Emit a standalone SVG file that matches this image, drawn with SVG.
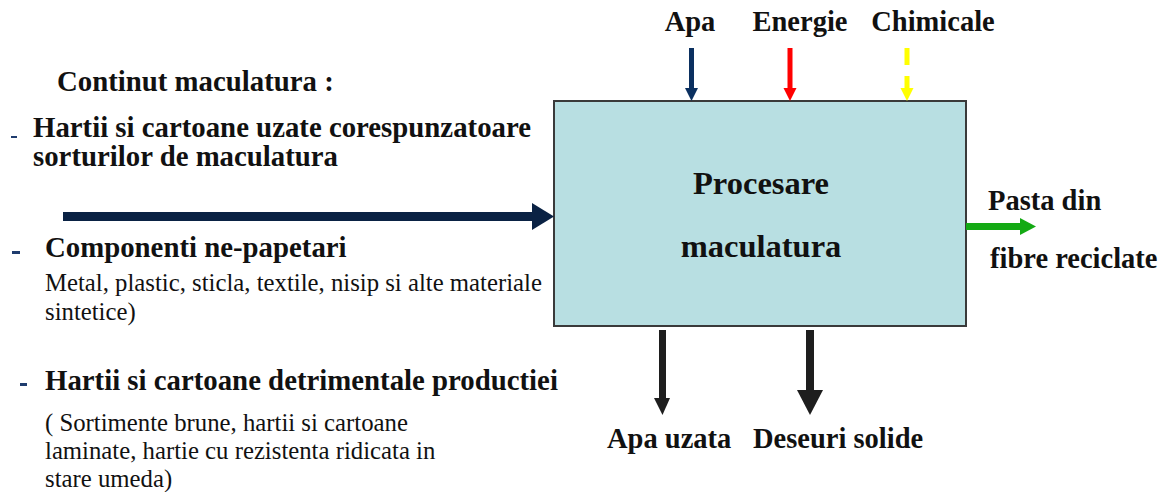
<svg xmlns="http://www.w3.org/2000/svg" width="1167" height="492" viewBox="0 0 1167 492">
  <style>
    .b { font-family: 'Liberation Serif', Tinos, 'Times New Roman', Times, serif; font-weight: bold; font-size: 28.5px; fill: #111; }
    .lb { font-size: 28.8px; }
    .big { font-size: 32.5px; }
    .r { font-family: 'Liberation Serif', Tinos, 'Times New Roman', Times, serif; font-size: 24.75px; fill: #111; }
    .mid { text-anchor: middle; }
    .dash { fill: #1f3c6e; }
    .navy { fill: #0a2244; }
    .dark { fill: #1e1e1e; }
  </style>
  <rect width="1167" height="492" fill="#ffffff"/>

  <!-- process block -->
  <g id="proces">
    <rect x="554" y="101" width="412" height="225" fill="#b8dfe2" stroke="#3a3a3a" stroke-width="2"/>
    <text class="b big mid" x="761" y="194">Procesare</text>
    <text class="b big mid" x="761" y="257">maculatura</text>
  </g>

  <!-- input: waste paper content -->
  <g id="maculatura">
    <text class="b lb" x="57" y="91">Continut maculatura :</text>
    <rect class="dash" x="11" y="136" width="6" height="2"/>
    <text class="b lb" x="33" y="137">Hartii si cartoane uzate corespunzatoare</text>
    <text class="b lb" x="33" y="166">sorturilor de maculatura</text>
    <rect class="dash" x="12" y="251" width="8" height="3"/>
    <text class="b lb" x="45" y="257">Componenti ne-papetari</text>
    <text class="r" x="45" y="291">Metal, plastic, sticla, textile, nisip si alte materiale</text>
    <text class="r" x="45" y="320">sintetice)</text>
    <rect class="dash" x="20" y="383" width="7" height="3"/>
    <text class="b lb" x="45" y="390">Hartii si cartoane detrimentale productiei</text>
    <text class="r" x="45" y="431">( Sortimente brune, hartii si cartoane</text>
    <text class="r" x="45" y="459">laminate, hartie cu rezistenta ridicata in</text>
    <text class="r" x="45" y="487">stare umeda)</text>
  </g>

  <!-- inputs from above -->
  <g id="apa"><text class="b mid" x="690" y="31">Apa</text></g>
  <g id="energie"><text class="b mid" x="800" y="31">Energie</text></g>
  <g id="chimicale"><text class="b mid" x="933" y="31">Chimicale</text></g>

  <!-- outputs -->
  <g id="pasta">
    <text class="b" x="988" y="210">Pasta din</text>
    <text class="b" x="990" y="268">fibre reciclate</text>
  </g>
  <g id="apa-uzata"><text class="b" x="607" y="448">Apa uzata</text></g>
  <g id="deseuri"><text class="b" x="753" y="448">Deseuri solide</text></g>

  <!-- connectors -->
  <g id="connectors">
    <!-- main feed -->
    <rect class="navy" x="63" y="212" width="470" height="9"/>
    <polygon class="navy" points="532,203 554,216.5 532,230"/>
    <!-- water in -->
    <rect x="689" y="48" width="5" height="41" fill="#0b3060"/>
    <polygon points="685,88 698,88 691.5,101" fill="#0b3060"/>
    <!-- energy in -->
    <rect x="787.5" y="48" width="5" height="41" fill="#ff0000"/>
    <polygon points="783.5,88 796.5,88 790,101" fill="#ff0000"/>
    <!-- chemicals in (dashed) -->
    <rect x="904.5" y="48" width="5" height="17" fill="#ffff00"/>
    <rect x="904.5" y="76" width="5" height="13" fill="#ffff00"/>
    <polygon points="900.5,88 913.5,88 907,101" fill="#ffff00"/>
    <!-- pulp out -->
    <rect x="966" y="223" width="55" height="7" fill="#14aa14"/>
    <polygon points="1020,218 1036,226.5 1020,235" fill="#14aa14"/>
    <!-- waste water out -->
    <rect class="dark" x="659" y="330" width="7" height="69"/>
    <polygon class="dark" points="654,398 670,398 662.5,415"/>
    <!-- solid waste out -->
    <rect class="dark" x="806" y="330" width="8" height="61"/>
    <polygon class="dark" points="797,390 823,390 810,415"/>
  </g>
</svg>
